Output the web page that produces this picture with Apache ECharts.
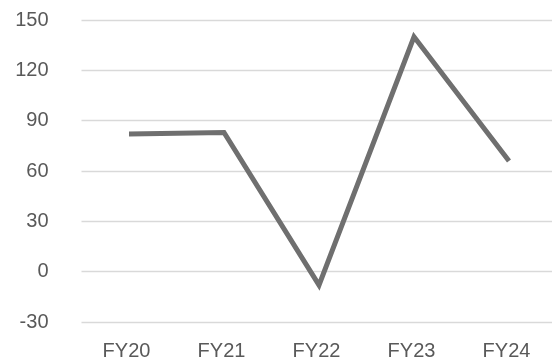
<!DOCTYPE html>
<html>
<head>
<meta charset="utf-8">
<script src="https://cdn.jsdelivr.net/npm/echarts@6/dist/echarts.min.js"></script>
<style>
  html, body { margin: 0; padding: 0; background: #ffffff; }
  #chart { width: 552px; height: 358px; }
</style>
</head>
<body>
<div id="chart"></div>
<script>
// Fiscal years on the category axis
const years = ['FY20', 'FY21', 'FY22', 'FY23', 'FY24'];
// Yearly values
const values = [82, 83, -8, 140, 66];
// Value axis range and step
const yMin = -30;
const yMax = 150;
const yStep = 30;

const chart = echarts.init(document.getElementById('chart'), null, { renderer: 'canvas' });

const labelFont = {
  color: '#595959',
  fontSize: 20,
  fontFamily: '"Liberation Sans", Arial, sans-serif'
};

chart.setOption({
  animation: false,
  backgroundColor: '#ffffff',
  grid: {
    left: 81.5,
    width: 475,
    top: 20,
    height: 302,
    containLabel: false,
    outerBoundsMode: 'none'
  },
  xAxis: {
    type: 'category',
    data: years,
    boundaryGap: true,
    axisLine: { show: false },
    axisTick: { show: false },
    axisLabel: Object.assign({ margin: 19, padding: [0, 5, 0, 0] }, labelFont),
    splitLine: { show: false }
  },
  yAxis: {
    type: 'value',
    min: yMin,
    max: yMax,
    interval: yStep,
    axisLine: { show: false },
    axisTick: { show: false },
    axisLabel: Object.assign({ margin: 33 }, labelFont),
    splitLine: { show: true, lineStyle: { color: '#d9d9d9', width: 1.3 } }
  },
  series: [{
    type: 'line',
    data: values,
    symbol: 'none',
    lineStyle: { color: '#6f6f6f', width: 5, cap: 'butt', join: 'miter' }
  }]
});
</script>
</body>
</html>
